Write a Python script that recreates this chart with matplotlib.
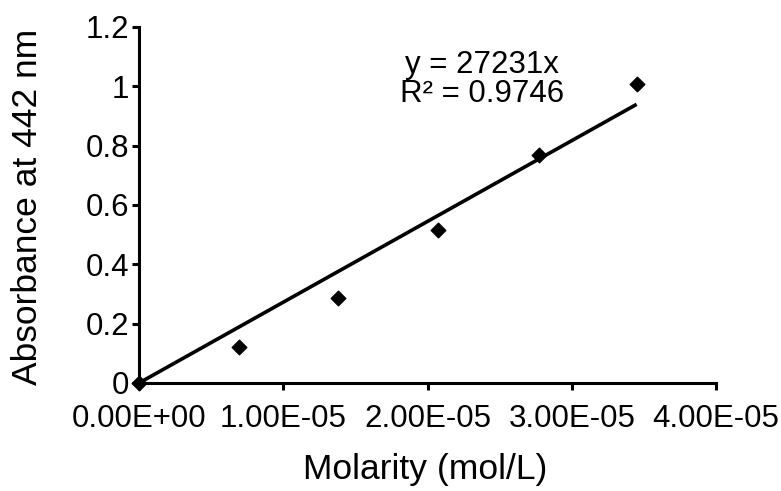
import matplotlib
matplotlib.use("Agg")
import matplotlib.pyplot as plt
from matplotlib.ticker import FixedLocator, FuncFormatter

# calibration points
molarity = [0.0, 6.94e-6, 1.38e-5, 2.07e-5, 2.77e-5, 3.45e-5]
absorbance = [0.0, 0.12, 0.287, 0.517, 0.77, 1.007]

# linear trendline through origin (Excel)
slope = 27231
r_squared = 0.9746

x_ticks = [0, 1e-5, 2e-5, 3e-5, 4e-5]
y_ticks = [0, 0.2, 0.4, 0.6, 0.8, 1.0, 1.2]

plt.rcParams['font.family'] = ['Liberation Sans', 'DejaVu Sans']

W, H = 781, 491
fig = plt.figure(figsize=(W / 100, H / 100), dpi=100)
ax = fig.add_axes([139 / W, 1 - 383 / H, (716 - 139) / W, (383 - 27) / H])

ax.scatter(molarity, absorbance, marker='D', s=55, color='black', zorder=3, clip_on=False)
fit_x = [0, max(molarity)]
fit_y = [slope * v for v in fit_x]
ax.plot(fit_x, fit_y, color='black', lw=2.6, solid_capstyle='butt', zorder=2)

fig.text(482 / W, 1 - 65 / H, "y = %dx" % slope, ha='center', va='center', fontsize=22.5)
fig.text(482 / W, 1 - 94 / H, "R² = %.4f" % r_squared, ha='center', va='center', fontsize=22.5)

ax.set_xlim(0, 4e-5)
ax.set_ylim(0, 1.2)
ax.xaxis.set_major_locator(FixedLocator(x_ticks))
ax.yaxis.set_major_locator(FixedLocator(y_ticks))
ax.xaxis.set_major_formatter(FuncFormatter(lambda v, p: "%.2E" % v))
ax.yaxis.set_major_formatter(FuncFormatter(lambda v, p: "%g" % v))

for s in ['top', 'right']:
    ax.spines[s].set_visible(False)
for s in ['left', 'bottom']:
    ax.spines[s].set_linewidth(2.2)
ax.tick_params(axis='both', direction='out', length=5, width=2.2, labelsize=22.5)
ax.tick_params(axis='x', pad=10)
ax.tick_params(axis='y', pad=2)

fig.text(425 / W, 1 - 470 / H, "Molarity (mol/L)", ha='center', va='center', fontsize=25.5)
fig.text(28 / W, 1 - 207 / H, "Absorbance at 442 nm", ha='center', va='center',
         rotation=90, fontsize=25.5)

fig.savefig("out.png", dpi=100)
